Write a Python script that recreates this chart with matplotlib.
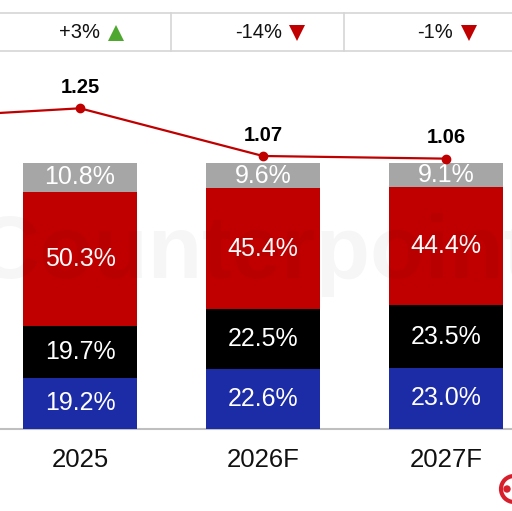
import matplotlib.pyplot as plt
from matplotlib.patches import Circle

plt.rcParams['font.family'] = ['Liberation Sans', 'DejaVu Sans']

years = ['2025', '2026F', '2027F']
blue = [19.2, 22.6, 23.0]
black = [19.7, 22.5, 23.5]
red = [50.3, 45.4, 44.4]
gray = [10.8, 9.6, 9.1]

# line includes the previous year, which is cut off at the left edge
line_x = [-1, 0, 1, 2]
line_vals = [1.21, 1.25, 1.07, 1.06]
growth = ['+3%', '-14%', '-1%']
growth_up = [True, False, False]

c_gray = '#A6A6A6'
c_red = '#C00000'
c_black = '#000000'
c_blue = '#1C2BA6'

fig = plt.figure(figsize=(5.12, 5.11), dpi=100)
ax = fig.add_axes([0, 0, 1, 1])
ax.set_xlim(-80 / 183, 2 + 66 / 183)
ax.set_ylim(-(511 - 429) / 2.66, 100 + 163 / 2.66)
ax.axis('off')

x = list(range(len(years)))
w = 114 / 183
bottom = [0, 0, 0]
for vals, col in [(blue, c_blue), (black, c_black), (red, c_red), (gray, c_gray)]:
    ax.bar(x, vals, w, bottom=bottom, color=col, zorder=2)
    for i, v in enumerate(vals):
        ax.text(x[i], bottom[i] + v / 2, f'{v:.1f}%', ha='center', va='center',
                color='white', fontsize=18, zorder=3)
    bottom = [b + v for b, v in zip(bottom, vals)]

ax.axhline(0, color='#BFBFBF', lw=1.5, zorder=1)
for i, y in enumerate(years):
    ax.annotate(y, (x[i], 0), xytext=(0, -22.5), textcoords='offset points',
                ha='center', va='center', fontsize=18.5, color='#111111')

# line on secondary scale
ax2 = ax.twinx()
ax2.set_ylim(1.25 - (511 - 108.3) / 265, 1.25 + 108.3 / 265)
ax2.axis('off')
ax2.plot(line_x, line_vals, color=c_red, lw=1.6, marker='o', ms=6, zorder=4)
for xi, v in zip(line_x[1:], line_vals[1:]):
    ax2.annotate(f'{v:.2f}', (xi, v), xytext=(0, 15), textcoords='offset points',
                 ha='center', va='center', fontsize=14.5, fontweight='bold')

# overlay in pixel coordinates: growth table, watermark, logo
ov = fig.add_axes([0, 0, 1, 1], zorder=5)
ov.set_xlim(0, 512)
ov.set_ylim(511, 0)
ov.axis('off')
ov.patch.set_alpha(0)

ov.plot([0, 512], [13, 13], color='#D5D5D5', lw=1.2)
ov.plot([0, 512], [51, 51], color='#D5D5D5', lw=1.2)
for sx in [171, 344]:
    ov.plot([sx, sx], [13, 51], color='#D5D5D5', lw=1.2)

num_right = [100, 282, 453]
tri_x = [116, 297, 469]
for g, up, nr, tx in zip(growth, growth_up, num_right, tri_x):
    ov.text(nr, 33, g, ha='right', va='center', fontsize=14.5, color='#111111')
    ov.plot(tx, 33, marker='^' if up else 'v', ms=11,
            color='#4EA72E' if up else c_red, markeredgewidth=0)

ov.text(-25, 255, 'Counterpoint', ha='left', va='center', fontsize=64,
        fontweight='bold', color='black', alpha=0.035)

ov.add_patch(Circle((514, 489), 13, fill=False, ec='#D81E2A', lw=3))
ov.add_patch(Circle((507, 489), 3, color='#D81E2A'))

fig.savefig('out.png', dpi=100)
